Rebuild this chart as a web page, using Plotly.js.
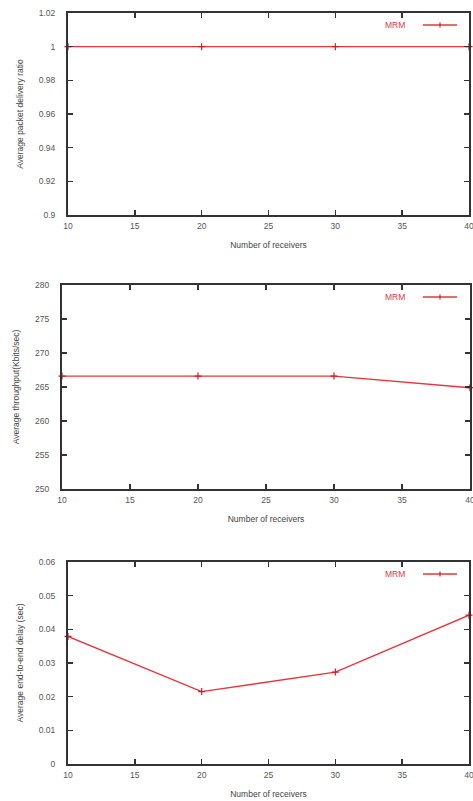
<!DOCTYPE html>
<html>
<head>
<meta charset="utf-8">
<script src="https://cdn.plot.ly/plotly-3.0.1.min.js"></script>
<style>html,body{margin:0;padding:0;background:#fff;}#chart{width:473px;height:801px;}</style>
</head>
<body>
<div id="chart"></div>
<script>
var receivers = [10, 20, 30, 40];
var deliveryRatio = [1, 1, 1, 1];
var throughput = [266.6, 266.6, 266.6, 264.9];
var delay = [0.0379, 0.0215, 0.0273, 0.0442];
var seriesName = "MRM";
var xTitle = "Number of receivers";
var yTitles = ["Average packet delivery ratio", "Average throughput(Kbits/sec)", "Average end-to-end delay (sec)"];

var red = "#e8343e";
function trace(y, xa, ya) {
  return {
    x: receivers, y: y, xaxis: xa, yaxis: ya, type: "scatter", mode: "lines+markers",
    name: seriesName, showlegend: false, cliponaxis: false,
    line: {color: red, width: 1.4},
    marker: {symbol: "cross-thin", size: 5, line: {color: "#c8202a", width: 1.2}}
  };
}
var data = [trace(deliveryRatio, "x", "y"), trace(throughput, "x2", "y2"), trace(delay, "x3", "y3")];

var W = 473, H = 801;
var font = {family: "Liberation Sans, Arial, sans-serif", size: 8.5, color: "#555"};
function xax(l, r, anchor) {
  return {
    domain: [l / W, r / W], anchor: anchor, range: [10, 40], dtick: 5, tick0: 10,
    showgrid: false, zeroline: false, showline: true, linecolor: "#333", linewidth: 2,
    mirror: "allticks", ticks: "inside", ticklen: 5, tickwidth: 1.5, tickcolor: "#333",
    tickfont: font, ticklabelstandoff: 2, ticklabeloverflow: "allow",
    title: {text: xTitle, font: {family: font.family, size: 8.5, color: "#444"}, standoff: 12}
  };
}
function yax(top, bot, anchor, range, dtick, title) {
  return {
    domain: [(H - bot) / H, (H - top) / H], anchor: anchor, range: range, dtick: dtick, tick0: range[0],
    showgrid: false, zeroline: false, showline: true, linecolor: "#333", linewidth: 2,
    mirror: "allticks", ticks: "inside", ticklen: 5, tickwidth: 1.5, tickcolor: "#333",
    tickfont: font, ticklabelstandoff: 9, ticklabeloverflow: "allow",
    title: {text: title, font: {family: font.family, size: 8.5, color: "#444"}, standoff: 14}
  };
}

var panels = [[13, 215, 68, 469], [285, 489, 62, 470], [562, 764, 68, 469]];
var shapes = [], annotations = [];
panels.forEach(function (p) {
  var yy = (H - (p[0] + 12)) / H;
  shapes.push({type: "line", xref: "paper", yref: "paper", x0: 423 / W, x1: 457 / W, y0: yy, y1: yy, line: {color: red, width: 1.4}});
  shapes.push({type: "line", xref: "paper", yref: "paper", x0: 440 / W, x1: 440 / W, y0: yy - 2.5 / H, y1: yy + 2.5 / H, line: {color: "#c8202a", width: 1.2}});
  annotations.push({xref: "paper", yref: "paper", x: 407 / W, y: yy, xanchor: "right", yanchor: "middle", showarrow: false,
    text: seriesName, font: {family: font.family, size: 8.5, color: red}});
});

var layout = {
  width: W, height: H, margin: {l: 0, r: 0, t: 0, b: 0}, paper_bgcolor: "#fff", plot_bgcolor: "#fff",
  showlegend: false,
  xaxis: xax(panels[0][2], panels[0][3], "y"),
  yaxis: yax(panels[0][0], panels[0][1], "x", [0.9, 1.02], 0.02, yTitles[0]),
  xaxis2: xax(panels[1][2], panels[1][3], "y2"),
  yaxis2: yax(panels[1][0], panels[1][1], "x2", [250, 280], 5, yTitles[1]),
  xaxis3: xax(panels[2][2], panels[2][3], "y3"),
  yaxis3: yax(panels[2][0], panels[2][1], "x3", [0, 0.06], 0.01, yTitles[2]),
  shapes: shapes, annotations: annotations
};
Plotly.newPlot("chart", data, layout, {staticPlot: true});
</script>
</body>
</html>
